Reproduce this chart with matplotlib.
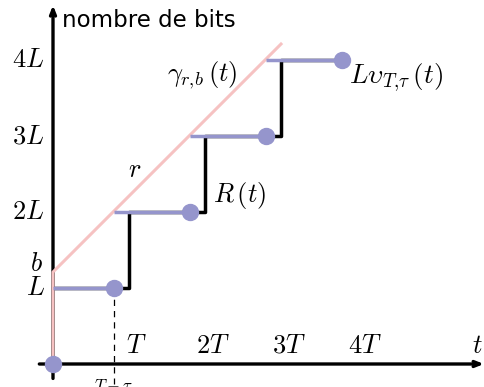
import matplotlib.pyplot as plt

plt.rcParams['mathtext.fontset'] = 'cm'

# données (unités : T en abscisse, L en ordonnée)
levels = [1, 2, 3, 4]          # niveaux kL
step_times = [1, 2, 3]         # sauts de R(t) en T, 2T, 3T
tau = 0.2                      # décalage tau (en T)
b = 1.21                       # ordonnée à l'origine de gamma
r = 1.0                        # pente de gamma
gamma_end = 3.0
xtick_labels = ['$T$', '$2T$', '$3T$', '$4T$']
ytick_labels = ['$L$', '$2L$', '$3L$', '$4L$']

blue = '#9595cc'
pink = '#f6c2c2'

fig = plt.figure(figsize=(4.85, 3.87), dpi=100)
ax = fig.add_axes([0, 0, 1, 1])
ax.set_xlim(-53 / 76, 432 / 76)
ax.set_ylim(-23 / 76, 364 / 76)
ax.axis('off')

# axes
arrow = dict(arrowstyle='->,head_length=0.45,head_width=0.18', lw=2.4, color='black',
             shrinkA=0, shrinkB=0)
ax.annotate('', xy=(5.67, 0), xytext=(-0.18, 0), arrowprops=arrow)
ax.annotate('', xy=(0, 4.72), xytext=(0, -0.19), arrowprops=arrow)

# courbe R(t) en escalier
rx = [0]
ry = [levels[0]]
for t, l0, l1 in zip(step_times, levels[:-1], levels[1:]):
    rx += [t, t]
    ry += [l0, l1]
rx.append(4 - tau)
ry.append(levels[-1])
ax.plot(rx, ry, color='black', lw=2.5, solid_capstyle='butt', zorder=2)

# gamma_{r,b}
ax.plot([0, 0, gamma_end], [0, b, b + r * gamma_end], color=pink, lw=2.2, zorder=3)

# L v_{T,tau}(t)
starts = [0] + [k - tau for k in range(1, 4)]
ends = [k - tau for k in range(1, 5)]
for s, e, l in zip(starts, ends, levels):
    ax.plot([s, e], [l, l], color=blue, lw=2.5, solid_capstyle='butt', zorder=4)
    ax.plot(e, l, 'o', color=blue, ms=11.5, zorder=5)
ax.plot(0, 0, 'o', color=blue, ms=11.5, zorder=5, clip_on=False)

# pointillés T - tau
ax.plot([1 - tau, 1 - tau], [levels[0], -0.26], color='black', lw=0.9,
        ls=(0, (5, 4)), zorder=1)

fs = 19
for k, lab in enumerate(ytick_labels):
    ax.text(-0.11, levels[k], lab, fontsize=fs, ha='right', va='center')
ax.text(-0.13, b + 0.1, '$b$', fontsize=fs, ha='right', va='center')
for k, lab in enumerate(xtick_labels):
    ax.text(k + 1 + 0.1, 0.07, lab, fontsize=fs, ha='center', va='bottom')
ax.text(5.58, 0.07, '$t$', fontsize=fs, ha='center', va='bottom')
ax.text(1 - tau, -0.17, r'$T-\tau$', fontsize=12, ha='center', va='top')

ax.text(0.12, 4.52, 'nombre de bits', fontsize=16.5, family='DejaVu Sans',
        ha='left', va='center')
ax.text(1.97, 3.8, r'$\gamma_{r,\!b}\,(t)$', fontsize=fs, ha='center', va='center')
ax.text(1.08, 2.55, '$r$', fontsize=fs, ha='center', va='center')
ax.text(2.11, 2.22, '$R\\,(t)$', fontsize=fs, ha='left', va='center')
ax.text(3.9, 3.76, r'$L\upsilon_{T,\!\tau}\,(t)$', fontsize=19.5, ha='left', va='center')

fig.savefig('out.png', dpi=100)
